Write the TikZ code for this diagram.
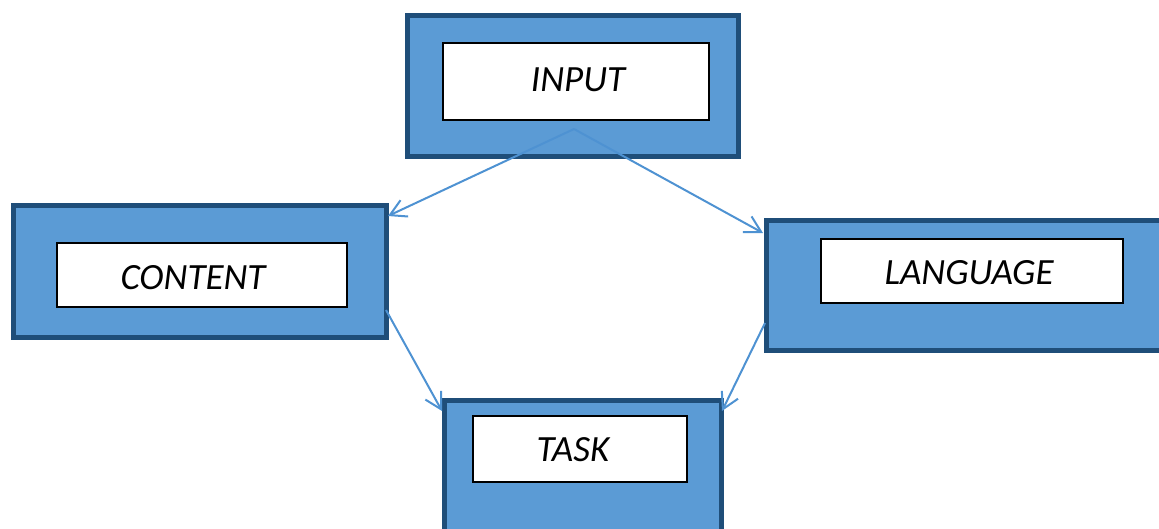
\documentclass[tikz,border=0pt]{standalone}
\usepackage{fontspec}
\setmainfont{Carlito}
\usetikzlibrary{arrows.meta}
\definecolor{boxfill}{HTML}{5B9BD5}
\definecolor{boxedge}{HTML}{1F4E79}
\definecolor{arrowcol}{HTML}{4E92D2}
\tikzset{
  outerbox/.style={draw=boxedge, fill=boxfill, line width=5pt, rectangle, inner sep=0pt, outer sep=0pt},
  innerbox/.style={draw=black, fill=white, line width=1.2pt, rectangle, inner sep=0pt, outer sep=0pt},
  label/.style={font=\fontsize{37}{44}\selectfont\itshape, inner sep=0pt},
  conn/.style={draw=arrowcol, line width=2pt, -{Straight Barb[length=16pt,width=18pt,line width=2pt]}}
}
\begin{document}
\begin{tikzpicture}[x=1pt,y=-1pt]
\useasboundingbox (0,0) rectangle (1159,529);
% outer boxes
\node[outerbox, minimum width=331pt, minimum height=141pt] (inputo) at (573,86) {};
\node[outerbox, minimum width=373pt, minimum height=131pt] (contento) at (199.5,271.5) {};
\node[outerbox, minimum width=399pt, minimum height=130pt] (languageo) at (965.5,285.5) {};
\node[outerbox, minimum width=277pt, minimum height=140pt] (tasko) at (582.5,470) {};
% inner boxes
\node[innerbox, minimum width=266pt, minimum height=77pt] (input) at (576,81.5) {};
\node[innerbox, minimum width=290pt, minimum height=64pt] (content) at (202,275) {};
\node[innerbox, minimum width=302pt, minimum height=64pt] (language) at (972,271) {};
\node[innerbox, minimum width=214pt, minimum height=66pt] (task) at (580,449) {};
% labels
\node[label] (tinput) at (578,80) {INPUT};
\node[label] (tcontent) at (193,278) {CONTENT};
\node[label] (tlanguage) at (969,273) {LANGUAGE};
\node[label] (ttask) at (573,450) {TASK};
% connector points
\coordinate (src) at (574,129);
\coordinate (cin) at (388,216);
\coordinate (lin) at (763,233);
\coordinate (cout) at (386,310);
\coordinate (lout) at (765,323);
\coordinate (tl) at (442,411);
\coordinate (tr) at (722,411);
% connectors
\draw[conn] (src) -- (cin);
\draw[conn] (src) -- (lin);
\draw[conn] (cout) -- (tl);
\draw[conn] (lout) -- (tr);
\end{tikzpicture}
\end{document}
